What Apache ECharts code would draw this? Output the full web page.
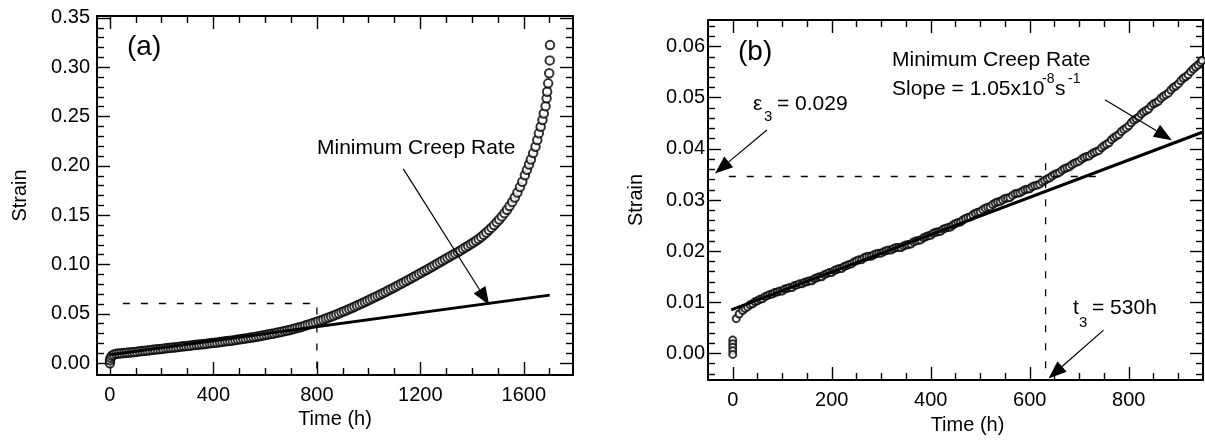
<!DOCTYPE html>
<html><head><meta charset="utf-8">
<script src="https://cdn.jsdelivr.net/npm/echarts@6/dist/echarts.min.js"></script>
<style>html,body{margin:0;padding:0;background:#fff}#c{width:1205px;height:441px}</style>
</head><body><div id="c"></div>
<script>
// ---------- Panel (a) data ----------
const timeA = [0,0,3,8,15,25,
35,45,55,65,75,85,95,105,115,125,
135,145,155,165,175,185,195,205,215,225,
235,245,255,265,275,285,295,305,315,325,
335,345,355,365,375,385,395,405,415,425,
435,445,455,465,475,485,495,505,515,525,
535,545,555,565,575,585,595,605,615,625,
635,645,655,665,675,685,695,705,715,725,
735,745,755,765,775,785,795,805,815,825,
835,845,855,865,875,885,895,905,915,925,
935,945,955,965,975,985,995,1005,1015,1025,
1035,1045,1055,1065,1075,1085,1095,1105,1115,1125,
1135,1145,1155,1165,1175,1185,1195,1205,1215,1225,
1235,1245,1255,1265,1275,1285,1295,1305,1315,1325,
1335,1345,1355,1365,1375,1385,1395,1405,1415,1425,
1435,1445,1455,1465,1475,1485,1495,1505,1515,1525,
1535,1545,1555,1565,1575,1585,
1594,1604,1612,1620,1627,1636,1645,1652,1658,1665,1672,1677,1684,1688,1690,1694,1698,1700,1701];
const strainA = [0.0000,0.0030,0.0055,0.0075,0.0088,0.0095,
0.0098,0.0101,0.0104,0.0106,0.0109,0.0111,0.0114,0.0117,0.0120,0.0123,
0.0126,0.0129,0.0132,0.0135,0.0138,0.0141,0.0144,0.0147,0.0150,0.0153,
0.0156,0.0159,0.0162,0.0165,0.0168,0.0171,0.0174,0.0177,0.0180,0.0183,
0.0186,0.0189,0.0192,0.0195,0.0198,0.0201,0.0204,0.0207,0.0210,0.0214,
0.0217,0.0221,0.0224,0.0228,0.0231,0.0235,0.0239,0.0243,0.0247,0.0251,
0.0255,0.0259,0.0263,0.0268,0.0272,0.0277,0.0282,0.0287,0.0292,0.0297,
0.0302,0.0308,0.0313,0.0319,0.0325,0.0331,0.0337,0.0344,0.0351,0.0358,
0.0365,0.0373,0.0381,0.0389,0.0397,0.0406,0.0415,0.0424,0.0433,0.0443,
0.0452,0.0462,0.0472,0.0482,0.0493,0.0504,0.0515,0.0526,0.0537,0.0549,
0.0560,0.0572,0.0584,0.0596,0.0608,0.0620,0.0633,0.0645,0.0658,0.0670,
0.0683,0.0696,0.0709,0.0722,0.0736,0.0750,0.0763,0.0777,0.0791,0.0805,
0.0819,0.0833,0.0847,0.0861,0.0876,0.0890,0.0905,0.0919,0.0934,0.0948,
0.0963,0.0978,0.0993,0.1008,0.1023,0.1038,0.1053,0.1068,0.1083,0.1098,
0.1113,0.1128,0.1143,0.1159,0.1175,0.1191,0.1207,0.1224,0.1241,0.1259,
0.1280,0.1302,0.1325,0.1349,0.1374,0.1400,0.1428,0.1457,0.1488,0.1521,
0.1556,0.1594,0.1635,0.1680,0.1730,0.1785,
0.1840,0.1905,0.1960,0.2015,0.2065,0.2130,0.2194,0.2262,0.2330,0.2397,0.2465,0.2532,0.2606,0.2685,0.2752,0.2837,0.2940,0.3070,0.3225];
const fitA_time = [0, 1700];
const fitA_strain = [0.0085, 0.0690];
const dashA_time = [50, 800, 800];
const dashA_strain = [0.0605, 0.0605, -0.012];
const arrowsA = [[1134, 0.197, 1466, 0.059]];
const xTicksA = [0, 400, 800, 1200, 1600];
const xMinorA = [100,200,300,500,600,700,900,1000,1100,1300,1400,1500,1700];
const yTicksA = [0, 0.05, 0.10, 0.15, 0.20, 0.25, 0.30, 0.35];
const yMinorA = [0.01,0.02,0.03,0.04,0.06,0.07,0.08,0.09,0.11,0.12,0.13,0.14,0.16,0.17,0.18,0.19,0.21,0.22,0.23,0.24,0.26,0.27,0.28,0.29,0.31,0.32,0.33,0.34];

// ---------- Panel (b) data ----------
const timeB = [0,0,0,0,0,7,13,
20,25,30,35,40,45,50,55,60,65,70,75,80,85,90,95,100,105,110,115,
120,125,130,135,140,145,150,155,160,165,170,175,180,185,190,195,200,205,210,215,
220,225,230,235,240,245,250,255,260,265,270,275,280,285,290,295,300,305,310,315,
320,325,330,335,340,345,350,355,360,365,370,375,380,385,390,395,400,405,410,415,
420,425,430,435,440,445,450,455,460,465,470,475,480,485,490,495,500,505,510,515,
520,525,530,535,540,545,550,555,560,565,570,575,580,585,590,595,600,605,610,615,
620,625,630,635,640,645,650,655,660,665,670,675,680,685,690,695,700,705,710,715,
720,725,730,735,740,745,750,755,760,765,770,775,780,785,790,795,800,805,810,815,
820,825,830,835,840,845,850,855,860,865,870,875,880,885,890,895,900,905,910,915,
920,925,930,935,940,945,948];
const strainB = [0.0026,0.0019,0.0012,0.0005,-0.0002,0.0068,0.0077,
0.0084,0.0088,0.0091,0.0095,0.0097,0.0101,0.0103,0.0106,0.0107,0.0111,0.0113,0.0115,0.0116,0.0119,0.0120,0.0122,0.0122,0.0126,0.0127,0.0129,
0.0129,0.0133,0.0134,0.0136,0.0136,0.0139,0.0140,0.0142,0.0142,0.0146,0.0148,0.0150,0.0150,0.0154,0.0156,0.0158,0.0158,0.0162,0.0164,0.0166,
0.0166,0.0170,0.0172,0.0174,0.0175,0.0179,0.0181,0.0183,0.0183,0.0187,0.0189,0.0190,0.0190,0.0193,0.0195,0.0196,0.0196,0.0199,0.0201,0.0202,
0.0202,0.0205,0.0207,0.0207,0.0207,0.0210,0.0212,0.0213,0.0214,0.0218,0.0220,0.0221,0.0222,0.0226,0.0228,0.0230,0.0231,0.0235,0.0237,0.0238,
0.0239,0.0243,0.0245,0.0246,0.0247,0.0251,0.0254,0.0256,0.0257,0.0261,0.0264,0.0266,0.0267,0.0271,0.0274,0.0276,0.0277,0.0281,0.0284,0.0286,
0.0287,0.0291,0.0294,0.0296,0.0297,0.0300,0.0303,0.0304,0.0305,0.0309,0.0312,0.0313,0.0314,0.0317,0.0320,0.0321,0.0322,0.0326,0.0328,0.0329,
0.0331,0.0335,0.0338,0.0341,0.0343,0.0347,0.0350,0.0352,0.0354,0.0358,0.0361,0.0363,0.0365,0.0369,0.0372,0.0374,0.0376,0.0380,0.0383,0.0385,
0.0386,0.0390,0.0393,0.0395,0.0397,0.0402,0.0406,0.0409,0.0412,0.0418,0.0422,0.0425,0.0428,0.0434,0.0438,0.0441,0.0445,0.0451,0.0456,0.0459,
0.0462,0.0468,0.0472,0.0475,0.0478,0.0484,0.0488,0.0490,0.0493,0.0499,0.0503,0.0506,0.0509,0.0515,0.0520,0.0523,0.0527,0.0533,0.0538,0.0541,
0.0545,0.0551,0.0556,0.0560,0.0564,0.0569,0.0573];
const fitB_time = [-3, 950];
const fitB_strain = [0.0085, 0.0433];
const dashB1_time = [-8, 742];
const dashB1_strain = [0.0346, 0.0346];
const dashB2_time = [632, 632];
const dashB2_strain = [0.0372, -0.0052];
const arrowsB = [[752, 0.0496, 887, 0.0417], [69, 0.0437, -36, 0.0352], [749, 0.00456, 638, -0.0049]];
const xTicksB = [0, 200, 400, 600, 800];
const xMinorB = [50,100,150,250,300,350,450,500,550,650,700,750,850,900];
const yTicksB = [0, 0.01, 0.02, 0.03, 0.04, 0.05, 0.06];
const yMinorB = [-0.004,-0.002,0.002,0.004,0.006,0.008,0.012,0.014,0.016,0.018,0.022,0.024,0.026,0.028,0.032,0.034,0.036,0.038,0.042,0.044,0.046,0.048,0.052,0.054,0.056,0.058,0.062,0.064];

const FONT = '"Liberation Sans", Arial, Helvetica, sans-serif';
const zip = (a, b) => a.map((v, i) => [v, b[i]]);

function axes(gi, isX, min, max, majors, minors, fmt, name, nameGap, margin, namePad) {
  const pos = isX ? 'bottom' : 'left';
  const opp = isX ? 'top' : 'right';
  const base = {gridIndex: gi, type: 'value', min: min, max: max, splitLine: {show: false}, scale: false};
  const line = {show: true, onZero: false, lineStyle: {color: '#000', width: 2}};
  const noLine = {show: false, onZero: false};
  const tk = (vals, len) => ({show: true, inside: true, length: len, customValues: vals, lineStyle: {color: '#000', width: 1.4}});
  return [
    Object.assign({}, base, {position: pos, axisLine: line, axisTick: tk(majors, 13),
      axisLabel: {show: true, customValues: majors, formatter: fmt, margin: margin, color: '#000', fontSize: 20, fontFamily: FONT},
      name: name, nameLocation: 'middle', nameGap: nameGap,
      nameTextStyle: {color: '#000', fontSize: 20, fontFamily: FONT, padding: namePad || 0}}),
    Object.assign({}, base, {position: pos, axisLine: noLine, axisTick: tk(minors, 7), axisLabel: {show: false}}),
    Object.assign({}, base, {position: opp, axisLine: line, axisTick: tk(majors, 13), axisLabel: {show: false}}),
    Object.assign({}, base, {position: opp, axisLine: noLine, axisTick: tk(minors, 7), axisLabel: {show: false}})
  ];
}

const fmtY = v => v.toFixed(2);
const fmtX = v => String(Math.round(v));

function arrowRender(params, api) {
  const p1 = api.coord([api.value(0), api.value(1)]);
  const p2 = api.coord([api.value(2), api.value(3)]);
  const dx = p2[0] - p1[0], dy = p2[1] - p1[1];
  const L = Math.hypot(dx, dy);
  const ux = dx / L, uy = dy / L;
  const hl = 18, hw = 7;
  const bx = p2[0] - ux * hl, by = p2[1] - uy * hl;
  return {type: 'group', children: [
    {type: 'line', shape: {x1: p1[0], y1: p1[1], x2: bx, y2: by}, style: {stroke: '#000', lineWidth: 1.2}},
    {type: 'polygon', shape: {points: [[p2[0], p2[1]], [bx - uy * hw, by + ux * hw], [bx + uy * hw, by - ux * hw]]}, style: {fill: '#000'}}
  ]};
}

const xAxes = [].concat(
  axes(0, true, -50, 1790, xTicksA, xMinorA, fmtX, 'Time (h)', 32, 10),
  axes(1, true, -50, 950, xTicksB, xMinorB, fmtX, 'Time (h)', 35, 10, [0, 0, 0, 24])
);
const yAxes = [].concat(
  axes(0, false, -0.012, 0.352, yTicksA, yMinorA, fmtY, 'Strain', 67, 7),
  axes(1, false, -0.0052, 0.0652, yTicksB, yMinorB, fmtY, 'Strain', 62, 3)
);

const lineCommon = {type: 'line', symbol: 'none', silent: true, z: 5};

const option = {
  animation: false,
  backgroundColor: '#fff',
  grid: [
    {left: 97, top: 16, width: 476, height: 359},
    {left: 708, top: 20, width: 495, height: 360}
  ],
  xAxis: xAxes,
  yAxis: yAxes,
  series: [
    {type: 'scatter', xAxisIndex: 0, yAxisIndex: 0, data: zip(timeA, strainA), symbol: 'emptyCircle', symbolSize: 8.5, itemStyle: {color: '#000', borderColor: '#000', borderWidth: 1.6}, z: 3},
    Object.assign({}, lineCommon, {xAxisIndex: 0, yAxisIndex: 0, data: zip(fitA_time, fitA_strain), lineStyle: {color: '#000', width: 3}}),
    Object.assign({}, lineCommon, {xAxisIndex: 0, yAxisIndex: 0, data: zip(dashA_time, dashA_strain), lineStyle: {color: '#000', width: 1.3, type: [7, 11]}}),
    {type: 'custom', xAxisIndex: 0, yAxisIndex: 0, data: arrowsA, renderItem: arrowRender, clip: false, silent: true, z: 6},
    {type: 'scatter', xAxisIndex: 4, yAxisIndex: 4, data: zip(timeB, strainB), symbol: 'emptyCircle', symbolSize: 7, itemStyle: {color: '#000', borderColor: '#000', borderWidth: 1.4}, z: 3},
    Object.assign({}, lineCommon, {xAxisIndex: 4, yAxisIndex: 4, data: zip(fitB_time, fitB_strain), lineStyle: {color: '#000', width: 3}}),
    Object.assign({}, lineCommon, {xAxisIndex: 4, yAxisIndex: 4, data: zip(dashB1_time, dashB1_strain), lineStyle: {color: '#000', width: 1.3, type: [7, 11]}}),
    Object.assign({}, lineCommon, {xAxisIndex: 4, yAxisIndex: 4, data: zip(dashB2_time, dashB2_strain), lineStyle: {color: '#000', width: 1.3, type: [7, 11]}}),
    {type: 'custom', xAxisIndex: 4, yAxisIndex: 4, data: arrowsB, renderItem: arrowRender, clip: false, silent: true, z: 6}
  ],
  graphic: [
    {type: 'text', x: 127, y: 47, style: {text: '(a)', font: '28px ' + FONT, fill: '#000', verticalAlign: 'middle'}},
    {type: 'text', x: 317, y: 148, style: {text: 'Minimum Creep Rate', font: '21px ' + FONT, fill: '#000', verticalAlign: 'middle'}},
    {type: 'text', x: 738, y: 52, style: {text: '(b)', font: '28px ' + FONT, fill: '#000', verticalAlign: 'middle'}},
    {type: 'text', x: 892, y: 60, style: {text: 'Minimum Creep Rate', font: '21px ' + FONT, fill: '#000', verticalAlign: 'middle'}},
    {type: 'text', x: 892, y: 89, style: {text: 'Slope = 1.05x10', font: '21px ' + FONT, fill: '#000', verticalAlign: 'middle'}},
    {type: 'text', x: 1042, y: 79, style: {text: '-8', font: '14px ' + FONT, fill: '#000', verticalAlign: 'middle'}},
    {type: 'text', x: 1055, y: 89, style: {text: 's', font: '21px ' + FONT, fill: '#000', verticalAlign: 'middle'}},
    {type: 'text', x: 1068, y: 79, style: {text: '-1', font: '14px ' + FONT, fill: '#000', verticalAlign: 'middle'}},
    {type: 'text', x: 753, y: 104, style: {text: 'ε', font: '21px ' + FONT, fill: '#000', verticalAlign: 'middle'}},
    {type: 'text', x: 764, y: 117, style: {text: '3', font: '15px ' + FONT, fill: '#000', verticalAlign: 'middle'}},
    {type: 'text', x: 777, y: 104, style: {text: '= 0.029', font: '21px ' + FONT, fill: '#000', verticalAlign: 'middle'}},
    {type: 'text', x: 1073, y: 308, style: {text: 't', font: '21px ' + FONT, fill: '#000', verticalAlign: 'middle'}},
    {type: 'text', x: 1079, y: 323, style: {text: '3', font: '15px ' + FONT, fill: '#000', verticalAlign: 'middle'}},
    {type: 'text', x: 1092, y: 308, style: {text: '= 530h', font: '21px ' + FONT, fill: '#000', verticalAlign: 'middle'}}
  ]
};

const chart = echarts.init(document.getElementById('c'), null, {renderer: 'canvas'});
chart.setOption(option);
</script>
</body></html>
